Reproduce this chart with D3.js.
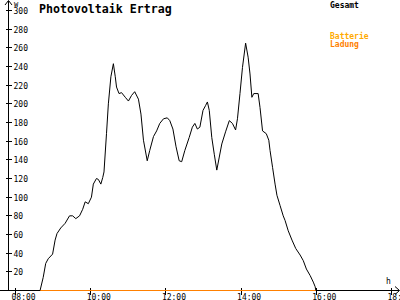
<!DOCTYPE html>
<html><head><meta charset="utf-8">
<script src="https://cdn.jsdelivr.net/npm/d3@7"></script>
<style>body{margin:0;background:#fff}svg{display:block}</style>
</head><body><svg id="c" width="400" height="300"></svg>
<script>
const title = "Photovoltaik Ertrag";
const yTicks = [20,40,60,80,100,120,140,160,180,200,220,240,260,280,300];
const xTicks = ["08:00","10:00","12:00","14:00","16:00","18:00"];
const legendLabels = ["Gesamt","Batterie","Ladung"];
const times = ["08:40","08:45","08:49","08:53","09:00","09:04","09:07","09:13","09:20","09:27","09:32","09:37","09:43","09:48","09:52","09:57","10:02","10:05","10:10","10:13","10:17","10:20","10:22","10:26","10:29","10:33","10:37","10:40","10:42","10:46","10:50","10:56","11:01","11:06","11:11","11:17","11:21","11:25","11:31","11:35","11:41","11:46","11:51","11:57","12:03","12:07","12:12","12:17","12:22","12:26","12:31","12:38","12:43","12:47","12:51","12:55","13:00","13:04","13:07","13:10","13:14","13:18","13:22","13:26","13:30","13:36","13:42","13:47","13:52","13:55","13:59","14:03","14:08","14:12","14:15","14:18","14:21","14:28","14:31","14:35","14:41","14:45","14:47","14:51","14:55","14:58","15:03","15:08","15:11","15:16","15:22","15:28","15:35","15:40","15:45","15:51","15:56","15:59","16:00"];
const gesamt = [0,14,29,34,39,54,61,67,72,80,80,77,80,87,95,93,100,114,120,119,114,121,127,168,200,229,243,229,218,211,212,207,203,209,213,205,189,161,139,150,165,171,179,184,185,182,173,154,139,138,150,164,175,179,173,175,193,198,202,193,164,146,129,143,157,170,182,179,172,184,211,239,265,250,232,207,211,211,196,171,168,161,150,132,114,102,91,80,75,64,54,45,38,32,23,16,9,4,0];
const batterieTimes = ["08:40","16:00"];
const batterieLadung = [0,0];

const svg = d3.select("#c");
const parse = d3.timeParse("%H:%M");
const x = d3.scaleTime().domain([parse("08:00"), parse("18:00")]).range([15, 391]);
const y = d3.scaleLinear().domain([0, 300]).range([290, 10]);
const mono = "DejaVu Sans Mono";

// axes lines
const ax = svg.append("g").attr("stroke", "#000").attr("stroke-width", 1).attr("shape-rendering", "crispEdges").attr("fill", "none");
ax.append("line").attr("x1", 8.5).attr("x2", 8.5).attr("y1", 1).attr("y2", 290.5);
ax.append("line").attr("x1", 0).attr("x2", 399).attr("y1", 290.5).attr("y2", 290.5);
svg.append("path").attr("d", "M5,5L8.5,0.5L12,5").attr("stroke", "#000").attr("fill", "none");
svg.append("path").attr("d", "M395,286.5L399.5,290.5L395,294.5").attr("stroke", "#000").attr("fill", "none");

// y axis
const ya = svg.append("g").attr("transform", "translate(8.5,0)")
  .call(d3.axisRight(y).tickValues(yTicks).tickSize(3).tickFormat(d3.format("d")));
ya.select(".domain").remove();
ya.selectAll(".tick line").attr("x1", -3).attr("x2", 3).attr("shape-rendering", "crispEdges");
ya.selectAll(".tick text").attr("x", 5).attr("dy", "0.45em").attr("font-family", mono).attr("font-size", 8).attr("fill", "#000");

// x axis
const xa = svg.append("g").attr("transform", "translate(0,290.5)")
  .call(d3.axisBottom(x).tickValues(xTicks.map(parse)).tickSize(4).tickFormat(d3.timeFormat("%H:%M")));
xa.select(".domain").remove();
xa.selectAll(".tick line").attr("y1", -3).attr("y2", 4).attr("shape-rendering", "crispEdges");
xa.selectAll(".tick text").attr("text-anchor", "start").attr("x", -4).attr("y", 0).attr("dy", "9px")
  .attr("font-family", mono).attr("font-size", 8).attr("fill", "#000");

// unit labels
svg.append("text").attr("x", 14).attr("y", 7).attr("font-family", mono).attr("font-size", 7).text("W");
svg.append("text").attr("x", 386).attr("y", 284).attr("font-family", mono).attr("font-size", 8).text("h");

// title
svg.append("text").attr("x", 39).attr("y", 13).attr("font-family", mono).attr("font-weight", "bold")
  .attr("font-size", 11.6).attr("fill", "#000").text(title);

// legend
const lg = [[legendLabels[0], "#000", 8], [legendLabels[1], "#ffaa00", 39], [legendLabels[2], "#ff8000", 47]];
svg.selectAll(".lg").data(lg).enter().append("text").attr("x", 330).attr("y", d => d[2])
  .attr("font-family", mono).attr("font-weight", "bold").attr("font-size", 8).attr("fill", d => d[1]).text(d => d[0]);

// data
const line = d3.line().x(d => x(d[0])).y(d => y(d[1]) + 0.5);
const gData = times.map((t, i) => [parse(t), gesamt[i]]);
const bData = batterieTimes.map((t, i) => [parse(t), batterieLadung[i]]);
svg.append("path").datum(bData).attr("d", line).attr("fill", "none").attr("stroke", "#ff8000").attr("stroke-width", 1.5).attr("shape-rendering", "crispEdges");
svg.append("path").datum(gData).attr("d", line).attr("fill", "none").attr("stroke", "#000").attr("stroke-width", 1);
</script></body></html>
